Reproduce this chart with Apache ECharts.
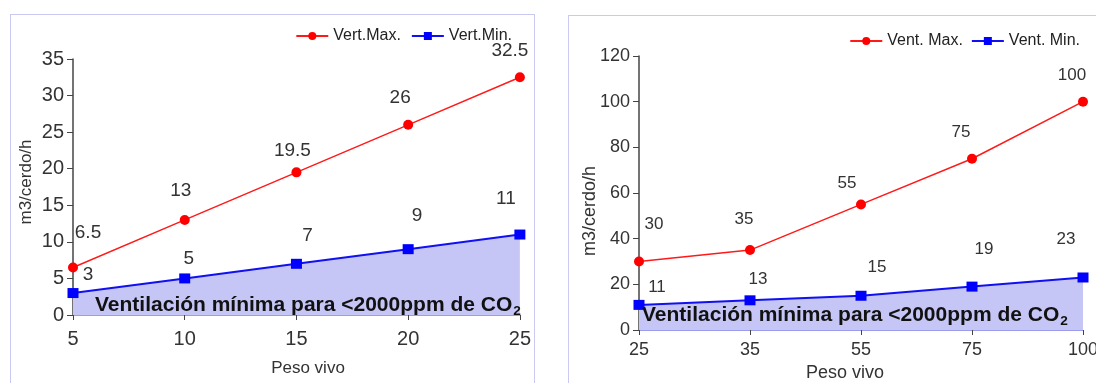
<!DOCTYPE html>
<html><head><meta charset="utf-8">
<script src="https://cdn.jsdelivr.net/npm/echarts@6/dist/echarts.min.js"></script>
<style>
html,body{margin:0;padding:0;background:#fff;width:1096px;height:383px;overflow:hidden;position:relative}
.panel{position:absolute;border:1px solid #c9c9f2;box-sizing:border-box;background:#fff}
#c1{left:10px;top:14px;width:525px;height:400px}
#c2{left:568px;top:15px;width:560px;height:400px}
</style></head><body>
<div id="c1" class="panel"></div><div id="c2" class="panel"></div>
<script>
// ---- data ----
const leftCategories = ['5', '10', '15', '20', '25'];
const leftMax = [6.5, 13, 19.5, 26, 32.5];
const leftMin = [3, 5, 7, 9, 11];
const leftLegend = ['Vert.Max.', 'Vert.Min.'];

const rightCategories = ['25', '35', '55', '75', '100'];
const rightMax = [30, 35, 55, 75, 100];
const rightMin = [11, 13, 15, 19, 23];
const rightLegend = ['Vent. Max.', 'Vent. Min.'];

const yAxisTitle = 'm3/cerdo/h';
const xAxisTitle = 'Peso vivo';
const noteText = 'Ventilación mínima para <2000ppm de CO';
const noteSub = '2';

// ---- styles (label offsets per point) ----
const leftMaxOff = [[15,-15],[-4,-10],[-4,-2],[-8,-8],[-10,-7]];
const leftMinOff = [[15,1],[4,0],[11,-9],[9,-14],[-14,-16]];
const rightMaxOff = [[15,-19],[-6,-12],[-14,-3],[-11,-8],[-11,-8]];
const rightMinOff = [[18,1],[8,-3],[16,-10],[12,-19],[-17,-20]];

const FONT = '"Liberation Sans", Arial, sans-serif';

function labelData(values, offs) {
  return values.map((v, i) => ({ value: v, label: { offset: offs[i] } }));
}

function build(el, cfg) {
  const chart = echarts.init(el, null, { renderer: 'canvas' });
  chart.setOption({
    animation: false,
    textStyle: { fontFamily: FONT },
    legend: {
      data: cfg.legend, right: cfg.legendRight, top: cfg.legendTop,
      itemWidth: 32, itemHeight: 10, itemGap: cfg.legendGap,
      textStyle: { fontFamily: FONT, fontSize: cfg.legendFs, color: '#222' }
    },
    grid: cfg.grid,
    xAxis: {
      type: 'category', data: cfg.categories, boundaryGap: false,
      axisLine: { lineStyle: { color: '#9c9cef', width: 1 } },
      axisTick: { show: true, alignWithLabel: true, length: 5, lineStyle: { color: '#444' } },
      axisLabel: { fontFamily: FONT, fontSize: cfg.tickFs, color: '#333', margin: cfg.xLabelMargin },
      splitLine: { show: false }
    },
    yAxis: {
      type: 'value', min: 0, max: cfg.yMax, interval: cfg.yInterval,
      axisLine: { show: true, lineStyle: { color: '#444', width: 1.5 } },
      axisTick: { show: true, length: 6, lineStyle: { color: '#444' } },
      axisLabel: { fontFamily: FONT, fontSize: cfg.tickFs, color: '#333', margin: 9 },
      splitLine: { show: false }
    },
    graphic: [
      { type: 'text', left: cfg.note[0], top: cfg.note[1], z: 100,
        style: {
          text: '{a|' + noteText + '}{b|' + noteSub + '}',
          rich: {
            a: { fontFamily: FONT, fontWeight: 'bold', fontSize: cfg.noteFs, fill: '#111', color: '#111' },
            b: { fontFamily: FONT, fontWeight: 'bold', fontSize: cfg.noteFs * 0.65, fill: '#111', color: '#111', padding: [cfg.noteFs * 0.55, 0, 0, 1] }
          }
        }
      },
      { type: 'text', x: cfg.yName[0], y: cfg.yName[1], rotation: Math.PI / 2,
        style: { text: yAxisTitle, fontFamily: FONT, fontSize: cfg.nameFs, fill: '#333', align: 'center', verticalAlign: 'middle' } },
      { type: 'text', x: cfg.xName[0], y: cfg.xName[1],
        style: { text: xAxisTitle, fontFamily: FONT, fontSize: cfg.nameFs, fill: '#333', align: 'center', verticalAlign: 'middle' } }
    ],
    series: [
      {
        name: cfg.legend[0], type: 'line', data: labelData(cfg.max, cfg.maxOff),
        symbol: 'circle', symbolSize: 10, z: 5,
        itemStyle: { color: '#ff0000' },
        lineStyle: { color: '#ff1a1a', width: 1.5 },
        label: { show: true, position: 'top', distance: 5, fontFamily: FONT, fontSize: cfg.dataFs, color: '#333' }
      },
      {
        name: cfg.legend[1], type: 'line', data: labelData(cfg.min, cfg.minOff),
        symbol: 'rect', symbolSize: [11, 10], z: 4,
        itemStyle: { color: '#0000ff' },
        lineStyle: { color: '#1010f0', width: 2 },
        areaStyle: { color: '#c6c6f6', opacity: 1 },
        label: { show: true, position: 'top', distance: 5, fontFamily: FONT, fontSize: cfg.dataFs, color: '#333' }
      }
    ]
  });
}

build(document.getElementById('c1'), {
  categories: leftCategories, max: leftMax, min: leftMin, legend: leftLegend,
  maxOff: leftMaxOff, minOff: leftMinOff,
  grid: { left: 62, top: 44, width: 448, height: 256 },
  yMax: 35, yInterval: 5, tickFs: 20, dataFs: 19, legendFs: 16, nameFs: 17, noteFs: 21,
  legendRight: 17, legendTop: 8, legendGap: 10, xLabelMargin: 14,
  note: [84, 280], yName: [15, 167], xName: [297, 353]
});

build(document.getElementById('c2'), {
  categories: rightCategories, max: rightMax, min: rightMin, legend: rightLegend,
  maxOff: rightMaxOff, minOff: rightMinOff,
  grid: { left: 70, top: 40, width: 444, height: 274 },
  yMax: 120, yInterval: 20, tickFs: 18, dataFs: 17, legendFs: 16, nameFs: 18, noteFs: 21,
  legendRight: 42, legendTop: 12, legendGap: 8, xLabelMargin: 11,
  note: [73, 289], yName: [21, 195], xName: [276, 357]
});
</script>
</body></html>
